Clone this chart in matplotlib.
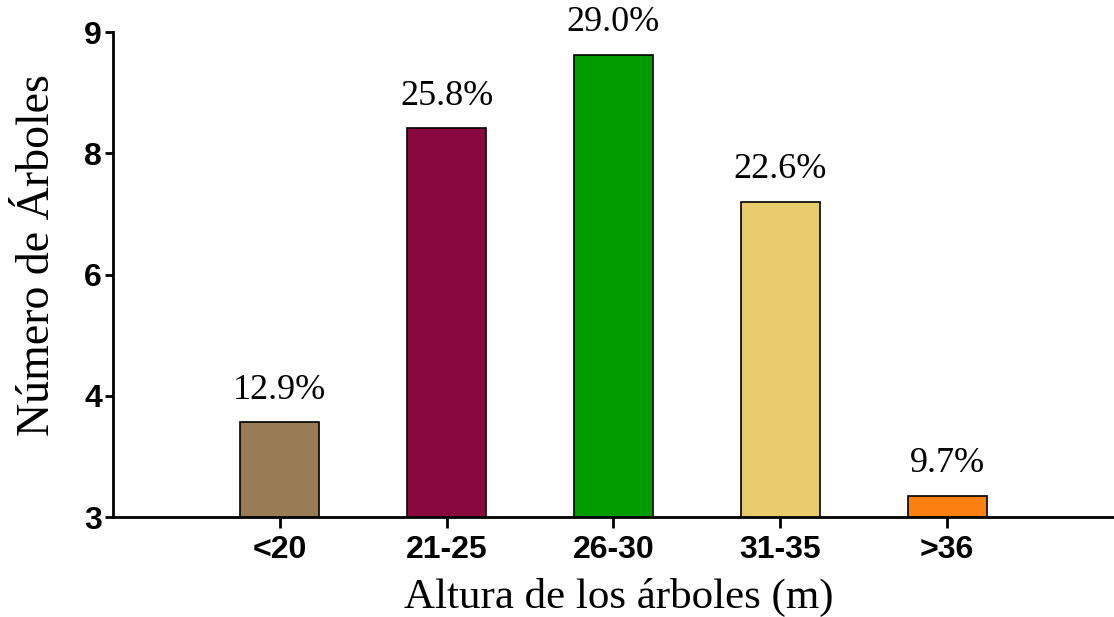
import matplotlib
matplotlib.use("Agg")
import matplotlib.pyplot as plt
import numpy as np

# tree height classes and tree counts (31 trees in total)
clases = ["<20", "21-25", "26-30", "31-35", ">36"]
arboles = [4, 8, 9, 7, 3]
colores = ["#997B55", "#8A0840", "#009C00", "#E8CC6B", "#FA8012"]

total = sum(arboles)
x = np.arange(len(clases))

fig = plt.figure(figsize=(11.14, 6.17), dpi=100)
ax = fig.add_axes([0.1014, 0.162, 0.8986, 0.786])

ax.bar(x, arboles, width=0.475, color=colores, edgecolor="black", linewidth=1.2, zorder=2)

for xi, n in zip(x, arboles):
    ax.annotate(f"{100 * n / total:.1f}%", (xi, n), xytext=(0, 17), textcoords="offset points",
                ha="center", va="baseline", fontsize=26, family="Liberation Serif",
                annotation_clip=False)

ax.set_xlim(-1, 5)
ymin, ymax = 2.71, 9.31
ax.set_ylim(ymin, ymax)
ax.set_yticks(np.linspace(ymin, ymax, 5))
ax.yaxis.set_major_formatter(matplotlib.ticker.FormatStrFormatter("%.0f"))
ax.set_xticks(x)
ax.set_xticklabels(clases)

for lab in ax.get_xticklabels() + ax.get_yticklabels():
    lab.set_family("Liberation Sans")
    lab.set_fontweight("bold")
    lab.set_fontsize(23)

ax.tick_params(axis="y", length=6, width=2, pad=2)
ax.tick_params(axis="x", length=8, width=2, pad=5)

for s in ["top", "right"]:
    ax.spines[s].set_visible(False)
for s in ["left", "bottom"]:
    ax.spines[s].set_linewidth(2)

ax.set_xlabel("Altura de los árboles (m)", fontsize=31, family="Liberation Serif")
ax.set_ylabel("Número de Árboles", fontsize=33, family="Liberation Serif", va="center")
ax.xaxis.set_label_coords(0.5055, -0.125)
ax.yaxis.set_label_coords(-0.075, 0.54)

fig.savefig("out.png", dpi=100)
